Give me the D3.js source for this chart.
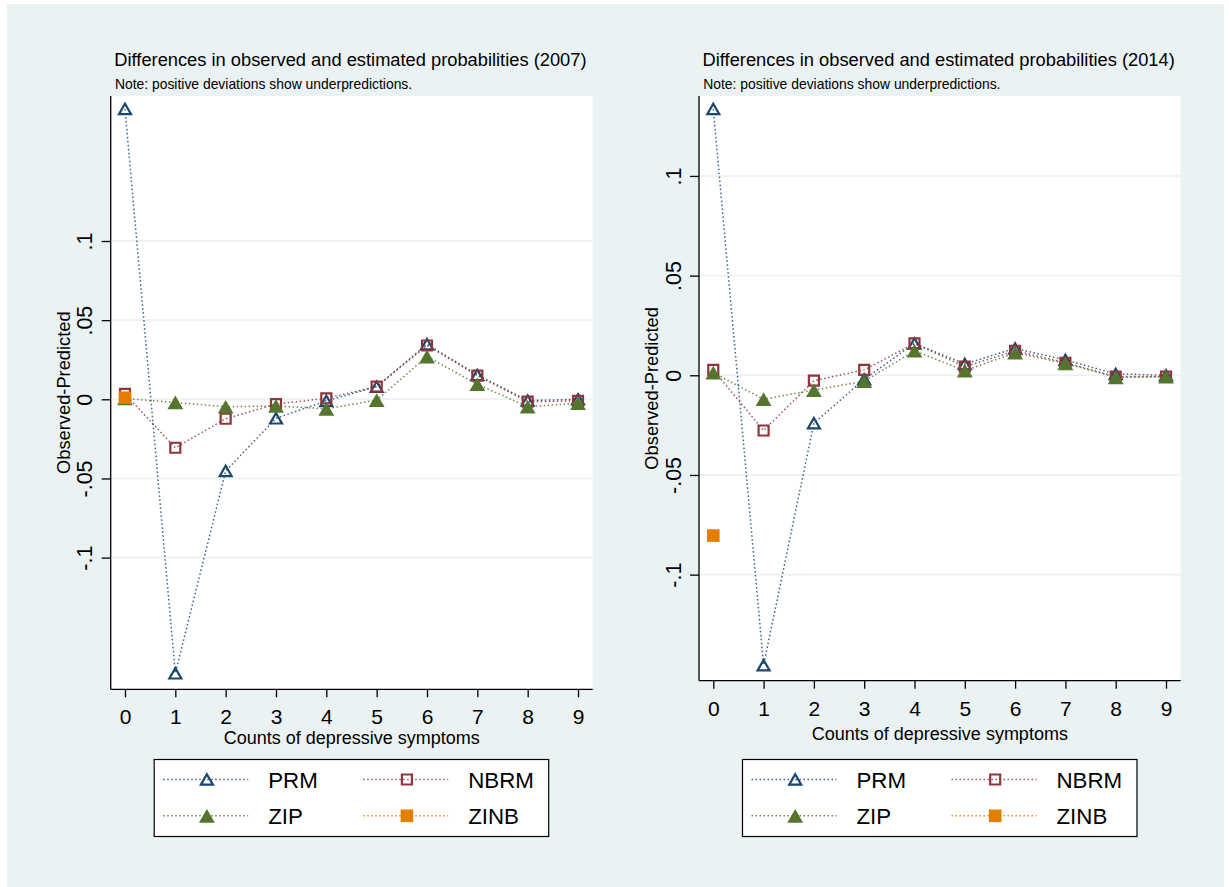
<!DOCTYPE html>
<html>
<head>
<meta charset="utf-8">
<title>Observed - predicted probabilities</title>
<script src="https://cdn.jsdelivr.net/npm/d3@7"></script>
<style>
  body { margin: 0; background: #fff; }
  text { font-family: "Liberation Sans", Arial, sans-serif; fill: #000; }
</style>
</head>
<body>
<div id="chart"></div>
<script>
// ---- data ----
var counts = [0, 1, 2, 3, 4, 5, 6, 7, 8, 9];
var seriesNames = ["PRM", "NBRM", "ZIP", "ZINB"];

var prm2007  = [0.1834, -0.1731, -0.0453, -0.0120, -0.0010, 0.0080, 0.0348, 0.0154, -0.0008, 0.0000];
var nbrm2007 = [0.0034, -0.0306, -0.0123, -0.0030, 0.0006, 0.0080, 0.0340, 0.0150, -0.0015, -0.0010];
var zip2007  = [0.0005, -0.0020, -0.0047, -0.0042, -0.0060, -0.0005, 0.0270, 0.0095, -0.0047, -0.0025];
var zinb2007 = [0.0010, null, null, null, null, null, null, null, null, null];

var prm2014  = [0.1336, -0.1454, -0.0240, -0.0020, 0.0160, 0.0057, 0.0135, 0.0077, 0.0007, 0.0000];
var nbrm2014 = [0.0027, -0.0277, -0.0027, 0.0027, 0.0160, 0.0043, 0.0123, 0.0063, -0.0007, -0.0007];
var zip2014  = [0.0013, -0.0120, -0.0074, -0.0030, 0.0123, 0.0023, 0.0113, 0.0060, -0.0010, -0.0007];
var zinb2014 = [-0.0804, null, null, null, null, null, null, null, null, null];

var yTickValues = [0.1, 0.05, 0, -0.05, -0.1];
var yTickLabels = [".1", ".05", "0", "-.05", "-.1"];

var titles = ["Differences in observed and estimated probabilities (2007)",
              "Differences in observed and estimated probabilities (2014)"];
var noteText = "Note: positive deviations show underpredictions.";
var xTitle = "Counts of depressive symptoms";
var yTitle = "Observed-Predicted";

// ---- styling ----
var colors  = ["#1A476F", "#90353B", "#55752F", "#E37E00"];
var markers = ["triHollow", "sqHollow", "triFilled", "sqFilled"];
var bgColor = "#EAF2F3";

var width = 1229, height = 887;

var svg = d3.select("#chart").append("svg")
    .attr("width", width)
    .attr("height", height);

svg.append("rect")
    .attr("x", 7).attr("y", 4)
    .attr("width", 1217).attr("height", height - 4)
    .attr("fill", bgColor);

var panels = [
  {title: titles[0], data: [prm2007, nbrm2007, zip2007, zinb2007],
   left: 110.7, right: 592.7, top: 96, bottom: 689.3,
   yDomain: [-0.1832, 0.1916], tickBase: 723.8, xTitleBase: 744},
  {title: titles[1], data: [prm2014, nbrm2014, zip2014, zinb2014],
   left: 699, right: 1180.7, top: 96, bottom: 680.7,
   yDomain: [-0.1532, 0.1401], tickBase: 716.2, xTitleBase: 740.3}
];

function markerPath(type) {
  var s, h;
  if (type == "triHollow" || type == "triFilled") {
    s = type == "triHollow" ? 12 : 15.8;
    h = s * 0.866;
    return "M0," + (-h/2) + "L" + (s/2) + "," + (h/2) + "L" + (-s/2) + "," + (h/2) + "Z";
  }
  s = type == "sqHollow" ? 10 : 12.6;
  return "M" + (-s/2) + "," + (-s/2) + "h" + s + "v" + s + "h" + (-s) + "Z";
}

function styleMarker(sel, i) {
  var hollow = markers[i].indexOf("Hollow") > 0;
  sel.attr("d", markerPath(markers[i]))
     .attr("fill", hollow ? "none" : colors[i])
     .attr("stroke", hollow ? colors[i] : "none")
     .attr("stroke-width", hollow ? 2.2 : 0);
}

function styleLine(sel, i) {
  sel.attr("fill", "none")
     .attr("stroke", colors[i])
     .attr("stroke-width", 1.5)
     .attr("stroke-opacity", 0.85)
     .attr("stroke-dasharray", "1.5,2.5");
}

panels.forEach(function(p) {
  var x = d3.scaleLinear().domain([-0.284, 9.292]).range([p.left, p.right]);
  var y = d3.scaleLinear().domain(p.yDomain).range([p.bottom, p.top]);
  var g = svg.append("g");

  // titles
  g.append("text").attr("x", p.left + 3.6).attr("y", 66)
      .style("font-size", "18.3px").text(p.title);
  g.append("text").attr("x", p.left + 4.2).attr("y", 89.3)
      .style("font-size", "13.9px").text(noteText);

  // plot region
  g.append("rect")
      .attr("x", p.left).attr("y", p.top)
      .attr("width", p.right - p.left).attr("height", p.bottom - p.top)
      .attr("fill", "#fff");

  // grid
  g.selectAll(".grid").data(yTickValues).enter().append("line")
      .attr("x1", p.left).attr("x2", p.right)
      .attr("y1", function(d) { return y(d); })
      .attr("y2", function(d) { return y(d); })
      .attr("stroke", bgColor).attr("stroke-width", 1.6);

  // axes
  var xAxis = d3.axisBottom(x).tickValues(counts).tickSize(8).tickSizeOuter(0);
  var xg = g.append("g").attr("transform", "translate(0," + p.bottom + ")").call(xAxis);
  xg.select(".domain").attr("d", "M" + p.left + ",0H" + p.right);
  xg.selectAll(".tick text").attr("dy", null).attr("y", p.tickBase - p.bottom)
      .style("font-size", "21px").attr("font-family", null);

  var yAxis = d3.axisLeft(y).tickValues(yTickValues).tickSize(9).tickSizeOuter(0)
      .tickFormat(function(d, i) { return yTickLabels[i]; });
  var yg = g.append("g").attr("transform", "translate(" + p.left + ",0)").call(yAxis);
  yg.select(".domain").attr("d", "M0," + p.top + "V" + p.bottom);
  yg.selectAll(".tick text")
      .attr("x", 0).attr("y", -26).attr("dy", "0.35em")
      .attr("text-anchor", "middle")
      .attr("transform", "rotate(-90)")
      .style("font-size", "21.5px").attr("font-family", null);

  g.selectAll(".domain, .tick line").attr("stroke", "#000").attr("stroke-width", 1.3);

  // axis titles
  g.append("text")
      .attr("x", (p.left + p.right) / 2).attr("y", p.xTitleBase)
      .attr("text-anchor", "middle").style("font-size", "18px").text(xTitle);
  g.append("text")
      .attr("transform", "translate(" + (p.left - 47) + "," + ((p.top + p.bottom) / 2) + ") rotate(-90)")
      .attr("dy", "0.35em").attr("text-anchor", "middle")
      .style("font-size", "18.3px").text(yTitle);

  // series
  p.data.forEach(function(vals, i) {
    var pts = counts.map(function(c, k) { return {c: c, v: vals[k]}; });
    var line = d3.line()
        .defined(function(d) { return d.v != null; })
        .x(function(d) { return x(d.c); })
        .y(function(d) { return y(d.v); });
    g.append("path").datum(pts).attr("d", line).call(styleLine, i);
    g.selectAll(".m" + i).data(pts.filter(function(d) { return d.v != null; }))
      .enter().append("path")
      .attr("class", "m" + i)
      .attr("transform", function(d) { return "translate(" + x(d.c) + "," + y(d.v) + ")"; })
      .call(styleMarker, i);
  });

  // legend
  var lx = p.left + 43.5, ly = 759.5;
  var lg = g.append("g").attr("transform", "translate(" + lx + "," + ly + ")");
  lg.append("rect").attr("width", 394.5).attr("height", 77)
      .attr("fill", "#fff").attr("stroke", "#000").attr("stroke-width", 1.2);
  seriesNames.forEach(function(name, i) {
    var col = i % 2, row = Math.floor(i / 2);
    var ox = col * 200, oy = row == 0 ? 20 : 56.3;
    lg.append("path").attr("d", "M" + (ox + 9) + "," + oy + "H" + (ox + 94)).call(styleLine, i);
    lg.append("path").attr("transform", "translate(" + (ox + 52.7) + "," + oy + ")").call(styleMarker, i);
    lg.append("text").attr("x", ox + 114).attr("y", oy).attr("dy", "0.36em")
        .style("font-size", "22.3px").text(name);
  });
});
</script>
</body>
</html>
